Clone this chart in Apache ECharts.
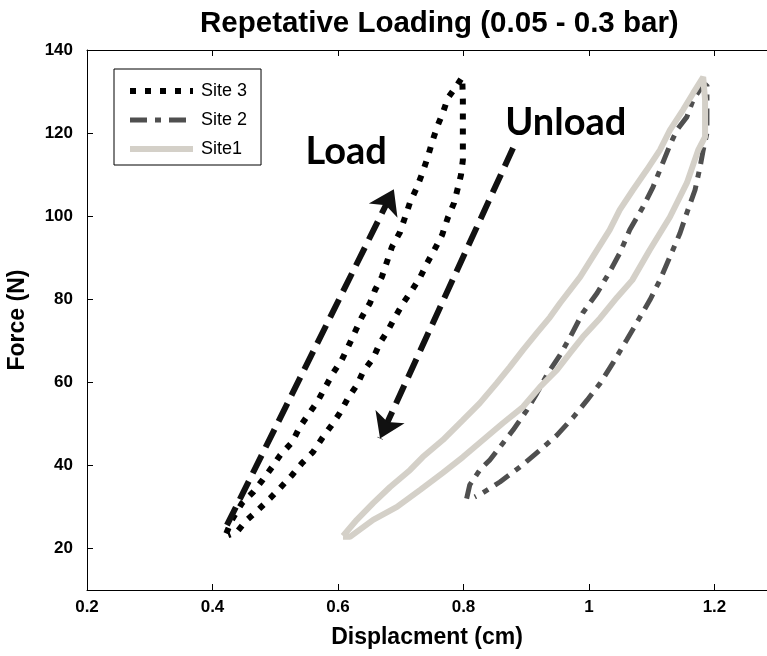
<!DOCTYPE html>
<html><head><meta charset="utf-8">
<script src="https://cdn.jsdelivr.net/npm/echarts@6/dist/echarts.min.js"></script>
<style>html,body{margin:0;padding:0;background:#fff}#c{width:767px;height:656px}</style>
</head><body><div id="c"></div>
<script>
// ---- Data ----
const titleText = 'Repetative Loading (0.05 - 0.3 bar)';
const xName = 'Displacment (cm)';
const yName = 'Force (N)';
const seriesNames = ['Site 3', 'Site 2', 'Site1'];
const xTicks = [0.2, 0.4, 0.6, 0.8, 1, 1.2];
const yTicks = [20, 40, 60, 80, 100, 120, 140];

const site3Disp = [0.422,0.431,0.447,0.465,0.480,0.495,0.508,0.527,0.539,0.552,0.567,0.579,0.592,0.606,0.616,0.627,0.638,0.651,0.659,0.670,0.678,0.686,0.699,0.707,0.715,0.726,0.735,0.743,0.750,0.758,0.767,0.775,0.790,0.798,
  0.799,0.799,0.799,0.796,0.791,0.785,0.775,0.766,0.755,0.742,0.731,0.718,0.704,0.691,0.680,0.667,0.656,0.640,0.630,0.616,0.603,0.590,0.575,0.560,0.543,0.527,0.508,0.492,0.473,0.455,0.439,0.425];
const site3Force = [23.6,26.9,30.9,33.6,36.5,39.6,42.5,45.6,49.2,52.1,55.3,58.6,62.2,65.4,68.5,72.1,75.7,79.1,82.2,85.4,89.0,92.6,96.2,99.8,103.4,107.0,110.6,114.2,117.8,121.5,124.8,128.4,131.6,133.5,
  128.0,120.7,113.5,109.9,106.8,103.2,99.6,95.5,92.3,88.7,85.3,82.2,79.1,75.7,72.6,69.5,65.8,62.5,59.3,56.2,52.6,49.7,46.6,43.2,40.6,37.7,34.6,32.1,29.3,26.9,24.0,23.2];

const site2Disp = [0.805,0.810,0.826,0.842,0.858,0.879,0.901,0.917,0.933,0.954,0.970,0.990,1.013,1.033,1.049,1.065,1.086,1.102,1.113,1.129,1.140,1.156,1.166,1.182,
  1.188,1.188,1.182,1.177,1.169,1.156,1.145,1.129,1.113,1.097,1.076,1.060,1.038,1.018,0.997,0.975,0.949,0.922,0.890,0.858,0.831,0.818];
const site2Force = [32.0,35.3,38.9,41.3,44.4,48.5,53.3,57.4,61.8,66.6,70.9,76.7,81.5,86.6,91.1,96.7,102.2,107.0,111.1,117.1,120.7,123.9,128.0,131.6,
  131.6,120.0,115.9,111.8,106.3,100.8,95.9,90.2,84.6,79.8,74.3,70.2,64.6,59.8,55.7,51.6,47.3,43.7,39.6,36.0,33.4,32.4];

const site1Disp = [0.608,0.630,0.656,0.683,0.715,0.735,0.767,0.799,0.826,0.853,0.874,0.895,0.917,0.938,0.954,0.986,1.013,1.033,1.049,1.070,1.092,1.113,1.129,1.150,1.166,1.182,
  1.185,1.185,1.185,1.174,1.156,1.129,1.097,1.069,1.045,1.018,0.990,0.970,0.949,0.922,0.895,0.863,0.831,0.799,0.767,0.731,0.694,0.656,0.619,0.608];
const site1Force = [23.0,26.9,30.9,34.8,38.9,42.0,46.1,50.9,55.0,59.8,63.7,67.8,71.9,75.7,79.1,85.4,91.9,96.7,101.5,106.3,111.1,115.9,120.7,125.6,129.6,133.5,
  133.5,128.0,119.1,115.9,108.0,99.8,91.9,84.6,80.5,75.5,70.9,67.1,63.0,58.9,54.1,50.2,46.1,42.0,38.2,34.1,30.0,26.9,22.8,22.8];

const loadArrow = [[0.423, 25.6], [0.689, 106.5]];
const unloadArrow = [[0.879, 116.4], [0.667, 46.5]];
const noteTexts = ['Load', 'Unload'];
const notePos = [[0.613, 115.4], [0.963, 122.4]];

// ---- Chart ----
function zip(a, b) { return a.map((v, i) => [v, b[i]]); }
const FONT = 'Liberation Sans, Arial, sans-serif';
const chart = echarts.init(document.getElementById('c'), null, { renderer: 'canvas' });

const commonAxisLine = { show: true, lineStyle: { color: '#000', width: 1 } };

const option = {
  backgroundColor: '#fff',
  animation: false,
  title: {
    text: titleText, left: 195, top: 4,
    textStyle: { fontFamily: FONT, fontWeight: 'bold', fontSize: 29.5, color: '#000' }
  },
  grid: { left: 87, right: 0, top: 50, bottom: 66, containLabel: false, outerBoundsMode: 'none' },
  legend: {
    data: seriesNames, orient: 'vertical', left: 114, top: 69,
    padding: [13, 14, 7, 13], itemWidth: 63, itemHeight: 20, itemGap: 11,
    backgroundColor: '#fff', borderColor: '#000', borderWidth: 1, borderRadius: 0,
    selectedMode: false,
    itemStyle: { opacity: 0 },
    lineStyle: { width: 'inherit', opacity: 1 },
    textStyle: { fontFamily: FONT, fontSize: 18, color: '#000', padding: [0, 0, 0, 3] }
  },
  xAxis: [{
    type: 'value', min: 0.2, max: 1.2837, position: 'bottom',
    name: xName, nameLocation: 'middle', nameGap: 36,
    nameTextStyle: { fontFamily: FONT, fontWeight: 'bold', fontSize: 23, color: '#000' },
    axisLine: commonAxisLine,
    axisTick: { show: true, inside: true, length: 6, customValues: xTicks, lineStyle: { color: '#000' } },
    axisLabel: { customValues: xTicks, fontFamily: FONT, fontWeight: 'bold', fontSize: 17, color: '#000', margin: 9 },
    splitLine: { show: false }
  }, {
    type: 'value', min: 0.2, max: 1.2837, position: 'top',
    axisLine: commonAxisLine,
    axisTick: { show: true, inside: true, length: 6, customValues: xTicks, lineStyle: { color: '#000' } },
    axisLabel: { show: false },
    splitLine: { show: false }
  }],
  yAxis: [{
    type: 'value', min: 10, max: 140, position: 'left',
    name: yName, nameLocation: 'middle', nameGap: 58, nameRotate: 90,
    nameTextStyle: { fontFamily: FONT, fontWeight: 'bold', fontSize: 23, color: '#000' },
    axisLine: commonAxisLine,
    axisTick: { show: true, inside: true, length: 6, customValues: yTicks, lineStyle: { color: '#000' } },
    axisLabel: { customValues: yTicks, fontFamily: FONT, fontWeight: 'bold', fontSize: 17, color: '#000', margin: 14 },
    splitLine: { show: false }
  }],
  series: [
    {
      name: seriesNames[0], type: 'line', data: zip(site3Disp, site3Force),
      symbol: 'none', showSymbol: false, silent: true, z: 3,
      lineStyle: { color: '#000', width: 6, type: [6, 9], cap: 'butt', join: 'miter' },
      itemStyle: { color: '#000' }
    },
    {
      name: seriesNames[1], type: 'line', data: zip(site2Disp, site2Force),
      symbol: 'none', showSymbol: false, silent: true, z: 3,
      lineStyle: { color: '#4f4f4f', width: 5, type: [17, 8, 6, 8], cap: 'butt' },
      itemStyle: { color: '#4f4f4f' }
    },
    {
      name: seriesNames[2], type: 'line', data: zip(site1Disp, site1Force),
      symbol: 'none', showSymbol: false, silent: true, z: 4,
      lineStyle: { color: '#d4d0c8', width: 6, type: 'solid' },
      itemStyle: { color: '#d4d0c8' }
    },
    {
      name: 'annotations', type: 'line', data: [], silent: true, z: 5,
      markLine: {
        silent: true, animation: false, symbol: ['none', 'arrow'], symbolSize: 24,
        label: { show: false },
        lineStyle: { color: '#111', width: 6, type: [20, 9] },
        emphasis: { disabled: true },
        data: [
          [{ coord: loadArrow[0], lineStyle: { curveness: -0.09 } }, { coord: loadArrow[1] }],
          [{ coord: unloadArrow[0], lineStyle: { curveness: 0.09 } }, { coord: unloadArrow[1] }]
        ]
      },
      markPoint: {
        silent: true, animation: false, symbol: 'rect', symbolSize: 1,
        itemStyle: { color: 'rgba(0,0,0,0)' },
        label: { show: true, position: 'inside', fontFamily: 'Lato, sans-serif', fontWeight: 'bold', fontSize: 38, color: '#000' },
        data: noteTexts.map((t, i) => ({ coord: notePos[i], label: { formatter: t } }))
      }
    }
  ]
};
chart.setOption(option);
</script>
</body></html>
